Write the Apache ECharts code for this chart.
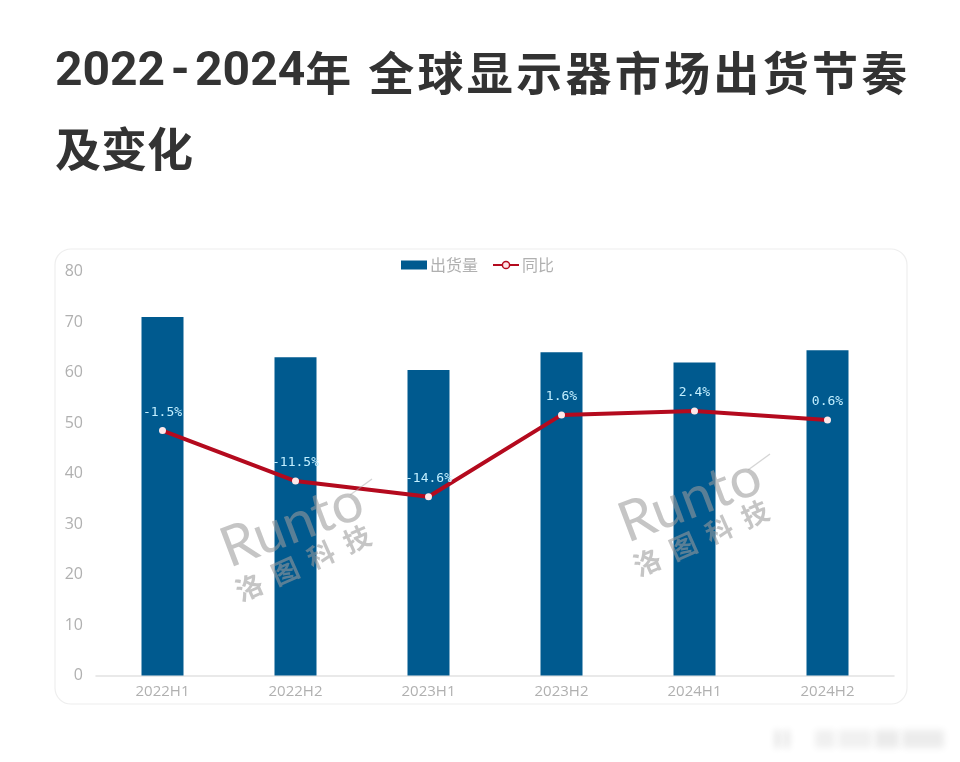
<!DOCTYPE html>
<html><head><meta charset="utf-8">
<style>html,body{margin:0;padding:0;background:#fff}#c{width:960px;height:762px}</style>
<script src="https://cdn.jsdelivr.net/npm/echarts@6/dist/echarts.min.js"></script>
</head><body><div id="c"></div>
<script>
const categories = ['2022H1','2022H2','2023H1','2023H2','2024H1','2024H2'];
const shipments = [71, 63, 60.5, 64, 62, 64.4];
const yoy = [-1.5, -11.5, -14.6, 1.6, 2.4, 0.6];
const leftTicks = [0,10,20,30,40,50,60,70,80];
const seriesNames = ['出货量','同比'];
const titleCJK1 = '年 全球显示器市场出货节奏';
const titleLine2 = '及变化';
const wmLatin = 'Runto';
const wmCJK = '洛  图  科  技';

const CJK = '"Noto Sans CJK SC"';
const chart = echarts.init(document.getElementById('c'), null, {renderer:'canvas'});

function watermark(x, y){
  const ink = 'rgba(155,155,155,0.58)';
  return [
    {type:'text', x:x, y:y, rotation:0.36, originX:0, originY:0, z:20, silent:true,
     style:{text:wmLatin, font:'400 56px "Lato","Open Sans",sans-serif', fill:ink, textAlign:'center', textVerticalAlign:'middle'}},
    {type:'text', x:x+11, y:y+38, rotation:0.42, originX:0, originY:0, z:20, silent:true,
     style:{text:wmCJK, font:'bold 27px '+CJK, fill:ink, textAlign:'center', textVerticalAlign:'middle'}},
    {type:'line', z:20, silent:true, shape:{x1:x+58,y1:y-30,x2:x+80,y2:y-46}, style:{stroke:'rgba(170,170,170,0.5)',lineWidth:1.2}}
  ];
}
// Soft blurred smudge: the rect sits off-canvas, only its blurred shadow lands on the page.
function smudge(x,w,c){
  return {type:'rect',z:-1,silent:true,shape:{x:x-3000,y:730,width:w,height:18},
    style:{fill:c,shadowBlur:7,shadowColor:c,shadowOffsetX:3000}};
}

const line1 = '{d|2022}{h|-}{d|2024}' + [...titleCJK1].map(ch=>'{c|'+ch+'}').join('');

chart.setOption({
  backgroundColor:'#fff',
  animation:false,
  title:{
    left:55, top:35, padding:0,
    text:line1+'\n{b|'+titleLine2+'}',
    textStyle:{rich:{
      d:{fontFamily:'Roboto',fontWeight:'bold',fontSize:48,color:'#333',lineHeight:76},
      h:{fontFamily:'Roboto',fontWeight:'bold',fontSize:48,color:'#333',lineHeight:76,padding:[0,5.5,0,5.5]},
      c:{fontFamily:CJK,fontWeight:'bold',fontSize:46,color:'#333',lineHeight:76,padding:[0,3.3,0,0]},
      b:{fontFamily:CJK,fontWeight:'bold',fontSize:46,color:'#333',lineHeight:76}
    }}
  },
  legend:{
    top:252, left:396, itemWidth:26, itemHeight:9, itemGap:14,
    data:[{name:seriesNames[0],icon:'rect'},
          {name:seriesNames[1],itemStyle:{color:'#ffe4e6',borderColor:'#b40a1e',borderWidth:1.5}}],
    textStyle:{fontFamily:CJK,fontSize:16,color:'#b0b0b0',padding:[0,0,0,-2]}
  },
  grid:{left:96, right:66, top:271.5, bottom:86.5, containLabel:false},
  xAxis:{type:'category',data:categories,
    axisLine:{lineStyle:{color:'#e2e2e2',width:1.5}},axisTick:{show:false},
    axisLabel:{color:'#b0b0b0',fontSize:15,margin:9,fontFamily:'"Open Sans","Liberation Sans",sans-serif'}},
  yAxis:[
    {type:'value',min:0,max:80,interval:10,splitLine:{show:false},
     axisLine:{show:false},axisTick:{show:false},
     axisLabel:{color:'#b0b0b0',fontSize:16,margin:13,padding:[4,0,0,0],fontFamily:'"Open Sans","Liberation Sans",sans-serif',
       customValues:leftTicks}},
    {type:'value',min:-50,max:30,show:false,splitLine:{show:false}}
  ],
  series:[
    {name:seriesNames[0],type:'bar',data:shipments,barWidth:42,yAxisIndex:0,
     itemStyle:{color:'#005a8f'}},
    {name:seriesNames[1],type:'line',data:yoy,yAxisIndex:1,smooth:false,z:5,
     symbol:'circle',symbolSize:7,showSymbol:true,
     lineStyle:{color:'#b40a1e',width:4},
     itemStyle:{color:'#ffe8ea',borderWidth:0},
     label:{show:true,position:'top',distance:8,formatter:p=>p.value.toFixed(1)+'%',
       color:'#c2efff',fontSize:13,fontFamily:'"DejaVu Sans Mono",monospace'}}
  ],
  graphic:[
    {type:'rect',z:-1,silent:true,shape:{x:55,y:249,width:852,height:455,r:16},
     style:{fill:'#fff',stroke:'#eeeeee',lineWidth:1.2}},
    smudge(775,5,'#e2e2e2'), smudge(785,4,'#dedede'),
    smudge(815,20,'#f0f0f0'), smudge(838,34,'#f1f1f1'), smudge(875,24,'#ebebeb'), smudge(902,42,'#ececec'),
    ...watermark(292,525),
    ...watermark(690,500)
  ]
});
</script></body></html>
